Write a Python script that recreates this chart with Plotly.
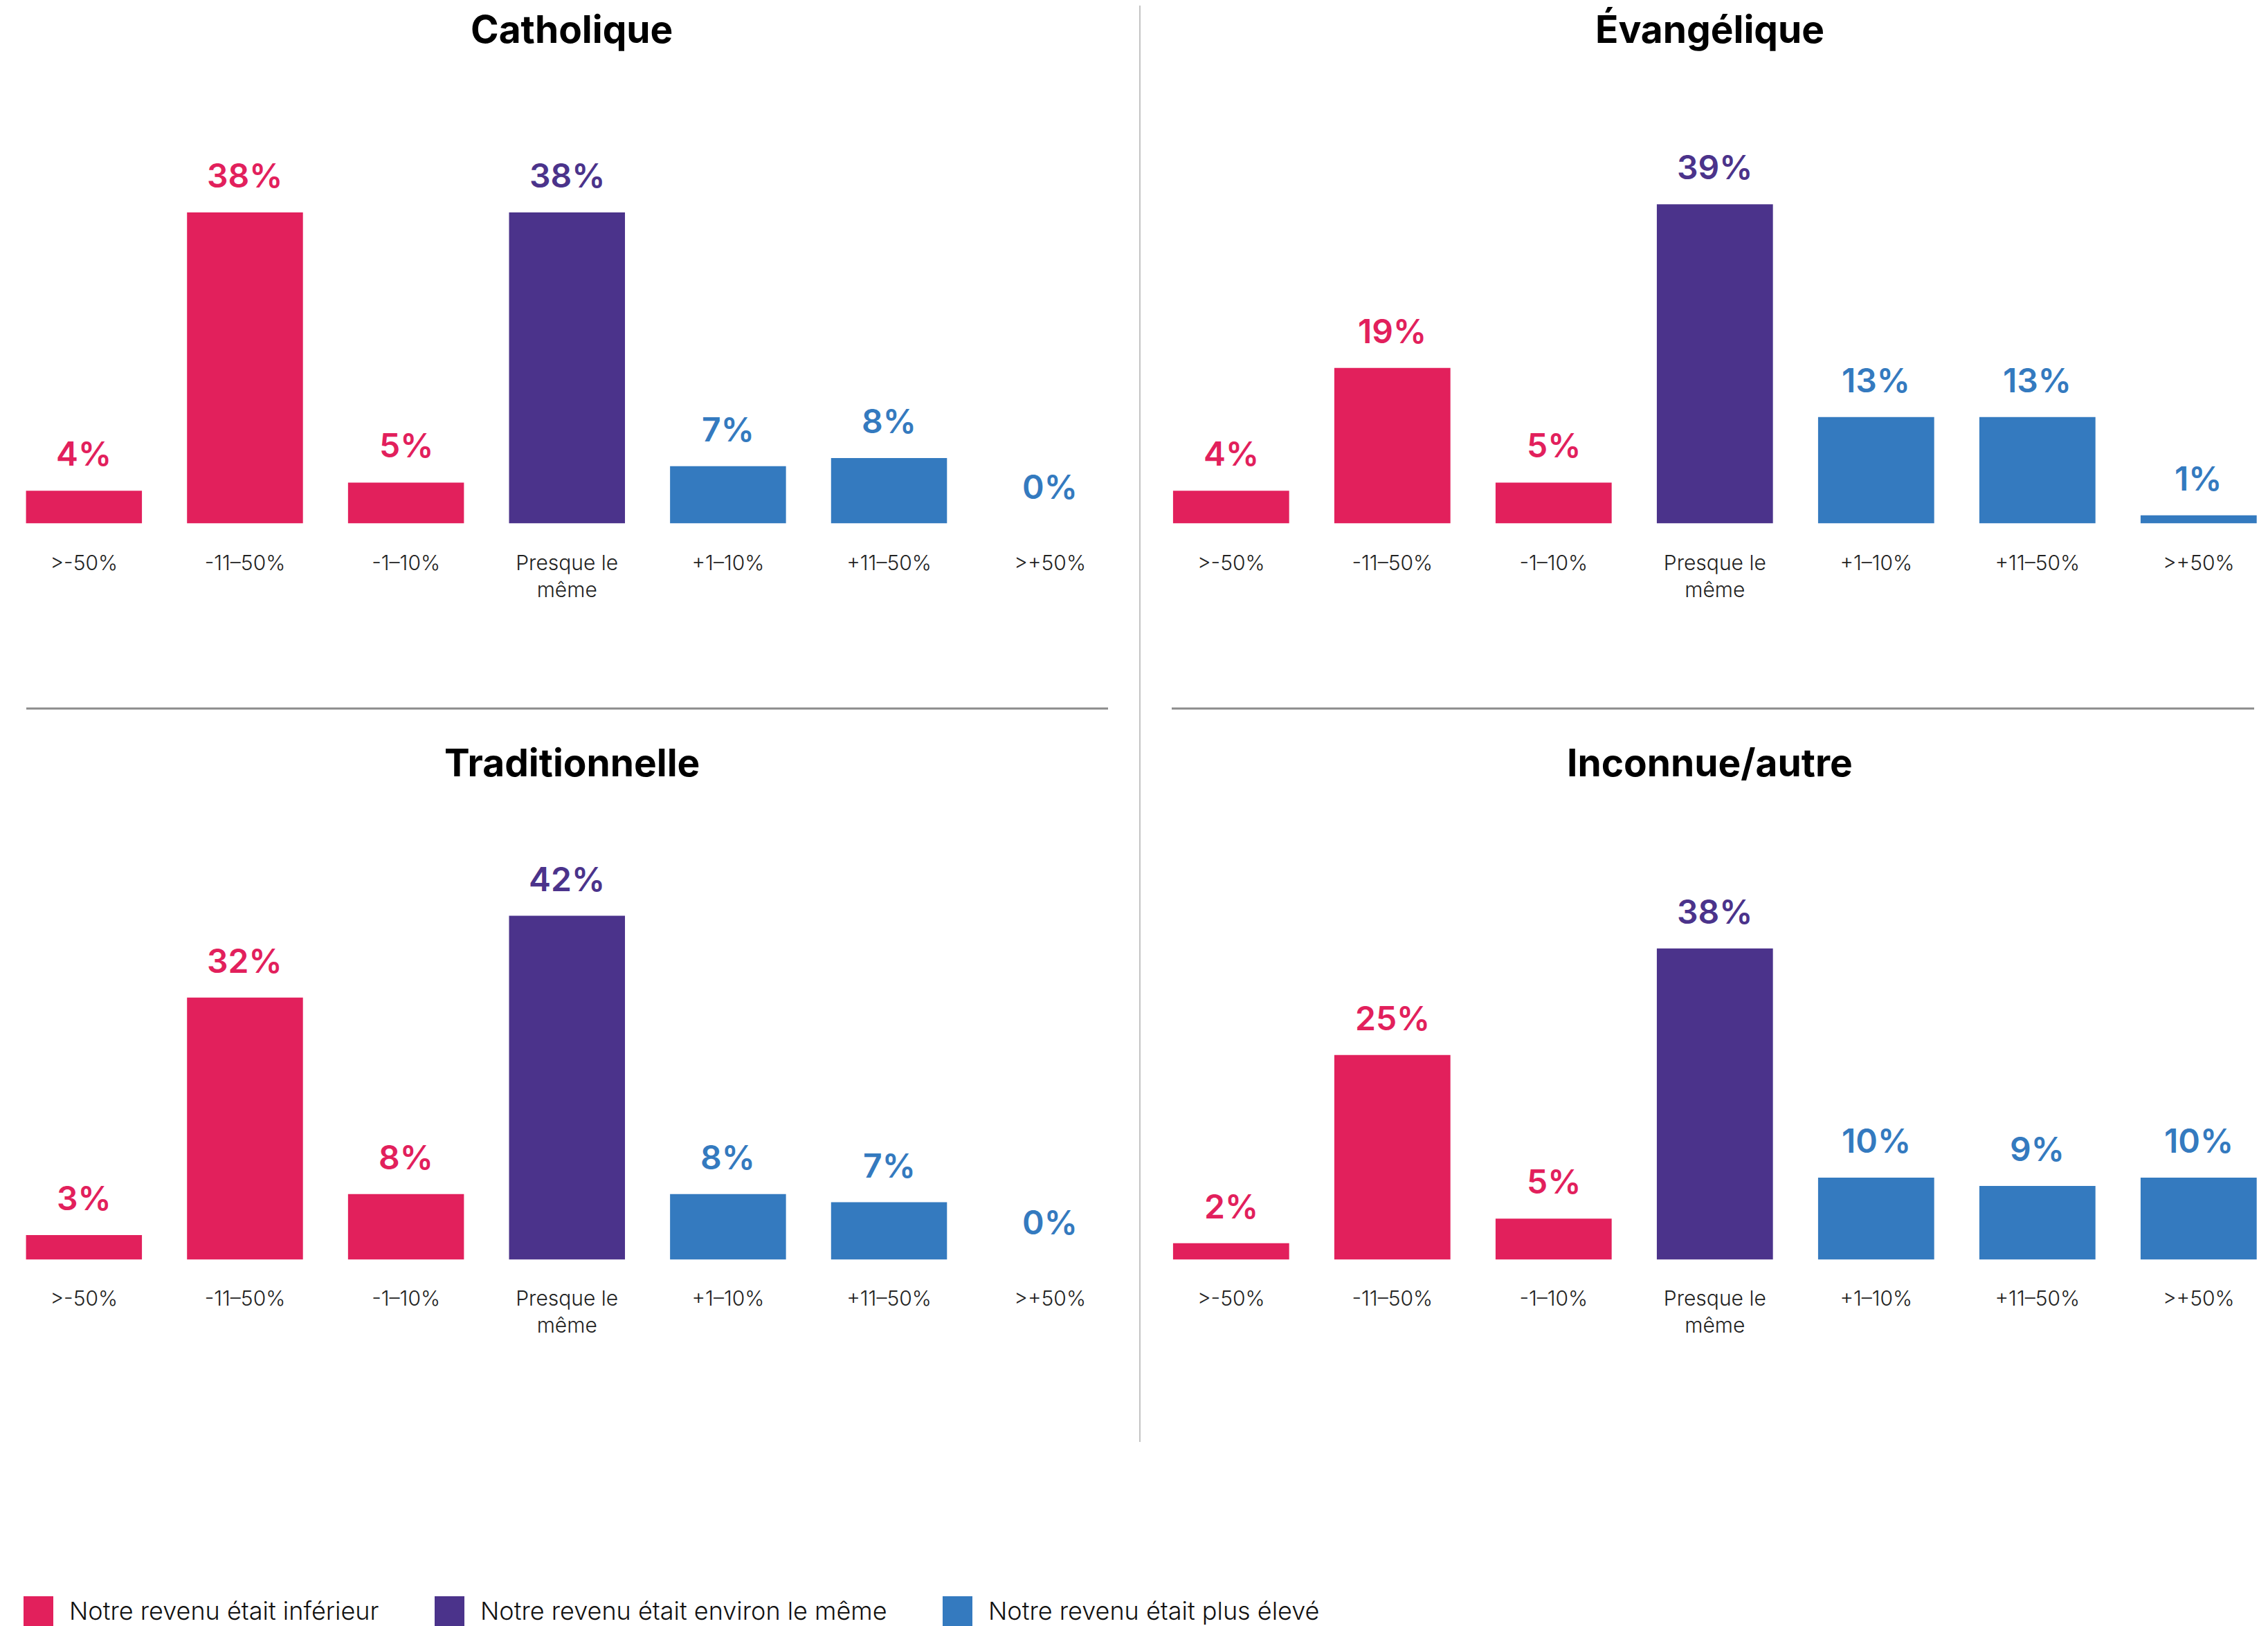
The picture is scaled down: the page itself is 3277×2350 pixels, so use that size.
import plotly.graph_objects as go

W, H = 3277, 2350
OFF = 8  # default body margin of the HTML page
FW, FH = W - OFF, H - OFF

categories = [">-50%", "-11–50%", "-1–10%", "Presque le<br>même", "+1–10%", "+11–50%", ">+50%"]
groups = [0, 0, 0, 1, 2, 2, 2]

titles = ["Catholique", "Évangélique", "Traditionnelle", "Inconnue/autre"]
catholique = [4, 38, 5, 38, 7, 8, 0]
evangelique = [4, 19, 5, 39, 13, 13, 1]
traditionnelle = [3, 32, 8, 42, 8, 7, 0]
inconnue = [2, 25, 5, 38, 10, 9, 10]
panels = [catholique, evangelique, traditionnelle, inconnue]

legend_names = ["Notre revenu était inférieur", "Notre revenu était environ le même", "Notre revenu était plus élevé"]
colors = ["#E2205C", "#4B338B", "#347ABF"]

FONT = "Inter"
PX_PER_PCT = 11.83
YMAX = 45

def px2x(p):
    return min(1.0, max(0.0, (p - OFF) / FW))

def py2y(p):
    return min(1.0, max(0.0, 1 - (p - OFF) / FH))

# panel geometry in screen pixels: (x_left, x_right, baseline_y, is_left)
slot = 233.0
geo = [
    (2.5 + OFF, 2.5 + 7 * slot, 756.6, True),
    (1662.3, W, 756.6, False),
    (2.5 + OFF, 2.5 + 7 * slot, 1820.4, True),
    (1662.3, W, 1820.4, False),
]

fig = go.Figure()
annotations = []
layout_axes = {}

for i, (vals, (xl, xr, base, is_left)) in enumerate(zip(panels, geo)):
    n = i + 1
    xa = "x" if n == 1 else f"x{n}"
    ya = "y" if n == 1 else f"y{n}"
    for g in range(3):
        xs = [c for c, gg in zip(categories, groups) if gg == g]
        ys = [v for v, gg in zip(vals, groups) if gg == g]
        fig.add_trace(go.Bar(
            x=xs, y=ys, xaxis=xa, yaxis=ya,
            marker=dict(color=colors[g], line=dict(width=0)),
            name=legend_names[g], showlegend=False, hoverinfo="x+y",
        ))
    for c, v, g in zip(categories, vals, groups):
        annotations.append(dict(
            x=c, y=v, xref=xa, yref=ya, text=f"{v}%", showarrow=False,
            yanchor="bottom", yshift=22,
            font=dict(family=FONT, size=48, color=colors[g], weight=600),
        ))
    top = base - YMAX * PX_PER_PCT
    dom = [px2x(xl), px2x(xr)]
    if is_left:
        xrange = [-0.5 + (OFF - 2.5) / slot, 6.5]
    else:
        xrange = [-0.5, -0.5 + (W - xl) / slot]
    layout_axes["xaxis" if n == 1 else f"xaxis{n}"] = dict(
        domain=dom, anchor=ya,
        type="category", categoryorder="array", categoryarray=categories,
        range=xrange, showgrid=False, zeroline=False, showline=False,
        ticks="outside", ticklen=30, tickcolor="rgba(0,0,0,0)",
        tickfont=dict(family=FONT, size=30, color="#222222", weight=300),
        fixedrange=True,
    )
    layout_axes["yaxis" if n == 1 else f"yaxis{n}"] = dict(
        domain=[py2y(base), py2y(top)], anchor=xa,
        range=[0, YMAX], visible=False, fixedrange=True,
    )

# panel titles (top-anchored so their boxes stay inside the page)
title_pos = [(826, OFF), (2470, OFF), (826, 1068), (2470, 1068)]
for t, (tx, ty) in zip(titles, title_pos):
    annotations.append(dict(
        x=px2x(tx), y=py2y(ty), xref="paper", yref="paper", text=t,
        showarrow=False, xanchor="center", yanchor="top", borderpad=0,
        font=dict(family=FONT, size=55, color="#000000", weight=700),
    ))

shapes = [
    dict(type="line", xref="paper", yref="paper", x0=px2x(1647), x1=px2x(1647),
         y0=py2y(6), y1=py2y(2084), line=dict(color="#C4C4C4", width=2)),
    dict(type="line", xref="paper", yref="paper", x0=px2x(38), x1=px2x(1601),
         y0=py2y(1024), y1=py2y(1024), line=dict(color="#8C8C8C", width=3)),
    dict(type="line", xref="paper", yref="paper", x0=px2x(1693), x1=px2x(3257),
         y0=py2y(1024), y1=py2y(1024), line=dict(color="#8C8C8C", width=3)),
]

# legend (manual)
legend_x = [34, 628, 1362]
for lx, name, col in zip(legend_x, legend_names, colors):
    shapes.append(dict(type="rect", xref="paper", yref="paper",
                       x0=px2x(lx), x1=px2x(lx + 43), y0=py2y(2350), y1=py2y(2307),
                       fillcolor=col, line=dict(width=0)))
    annotations.append(dict(
        x=px2x(lx + 64), y=py2y(2328), xref="paper", yref="paper", text=name,
        showarrow=False, xanchor="left", yanchor="middle",
        font=dict(family=FONT, size=36, color="#111111", weight=300),
    ))

fig.update_layout(
    width=FW, height=FH, autosize=False,
    margin=dict(l=0, r=0, t=0, b=0, pad=0),
    paper_bgcolor="white", plot_bgcolor="white",
    bargap=0.28, barmode="overlay",
    annotations=annotations, shapes=shapes,
    **layout_axes,
)

fig.write_html("out.html", config={"displayModeBar": False})
